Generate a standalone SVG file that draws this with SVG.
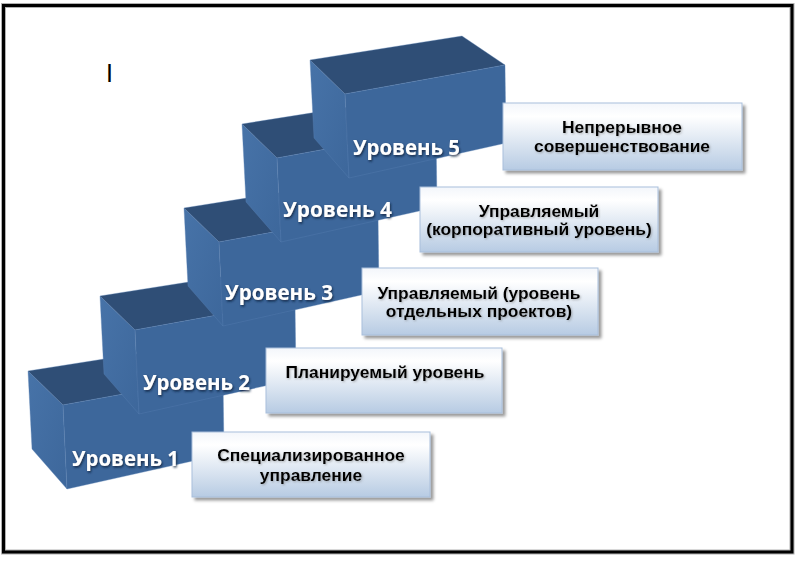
<svg xmlns="http://www.w3.org/2000/svg" width="800" height="562" viewBox="0 0 800 562">
<defs>
<linearGradient id="boxg" x1="0" y1="0" x2="0" y2="1">
<stop offset="0" stop-color="#f3f6fb"/>
<stop offset="0.2" stop-color="#ffffff"/>
<stop offset="1" stop-color="#b7cbe3"/>
</linearGradient>
<linearGradient id="sideg" x1="0" y1="0" x2="1" y2="1">
<stop offset="0" stop-color="#4773a8"/>
<stop offset="1" stop-color="#3d679b"/>
</linearGradient>
<filter id="boxsh" x="-10%" y="-10%" width="125%" height="135%">
<feDropShadow dx="3" dy="3" stdDeviation="1.5" flood-color="#000" flood-opacity="0.4"/>
</filter>
<filter id="lblsh" x="-10%" y="-30%" width="130%" height="170%">
<feDropShadow dx="1" dy="1.5" stdDeviation="1.2" flood-color="#10203a" flood-opacity="0.85"/>
</filter>
<filter id="txtsh" x="-5%" y="-30%" width="115%" height="170%">
<feDropShadow dx="1" dy="1" stdDeviation="0.8" flood-color="#6a6a6a" flood-opacity="0.5"/>
</filter>
</defs>
<style>
.front{fill:#3d679b;stroke:#5a82b4;stroke-width:0.6;stroke-opacity:0.6}
.top{fill:#2f4e76;stroke:#5a82b4;stroke-width:0.6;stroke-opacity:0.6}
.side{fill:url(#sideg);stroke:#5a82b4;stroke-width:0.6;stroke-opacity:0.6}
.lbl{font-family:"Open Sans","Noto Sans","DejaVu Sans",sans-serif;font-weight:bold;font-size:21px;fill:#ffffff;filter:url(#lblsh)}
.box{fill:url(#boxg);stroke:#a9bfdb;stroke-width:1;filter:url(#boxsh)}
.bt{font-family:"Liberation Sans",Arial,sans-serif;font-weight:bold;font-size:17.4px;fill:#000;text-anchor:middle;filter:url(#txtsh)}
</style>
<rect x="0" y="0" width="800" height="562" fill="#ffffff"/>
<rect id="frame-halo" x="3.5" y="5.5" width="788.5" height="546.5" fill="none" stroke="#b0b0b0" stroke-width="5"/>
<rect id="frame" x="3.5" y="5.5" width="788.5" height="546.5" fill="none" stroke="#000" stroke-width="3"/>
<text x="106" y="82" font-family="Liberation Sans,Arial,sans-serif" font-size="25" fill="#000">I</text>

<g id="connectors"></g>

<g id="step1">
<polygon class="side" points="28,371 63,405 67,489 32,449"/>
<polygon class="top" points="28,371 63,405 223,376 180,347"/>
<polygon class="front" points="63,405 223,376 224,454 67,489"/>
<text class="lbl" x="72" y="466" textLength="107" lengthAdjust="spacingAndGlyphs">Уровень 1</text>
</g>
<g id="step2">
<polygon class="side" points="100,296 135,330 139,414 104,374"/>
<polygon class="top" points="100,296 135,330 295,301 252,272"/>
<polygon class="front" points="135,330 295,301 296,379 139,414"/>
<text class="lbl" x="143" y="390" textLength="107" lengthAdjust="spacingAndGlyphs">Уровень 2</text>
</g>
<g id="step3">
<polygon class="side" points="184,208 219,242 223,326 188,286"/>
<polygon class="top" points="184,208 219,242 378,213 335,184"/>
<polygon class="front" points="219,242 378,213 379,291 223,326"/>
<text class="lbl" x="225" y="300" textLength="108" lengthAdjust="spacingAndGlyphs">Уровень 3</text>
</g>
<g id="step4">
<polygon class="side" points="242,124 277,158 281,242 246,202"/>
<polygon class="top" points="242,124 277,158 436,129 393,100"/>
<polygon class="front" points="277,158 436,129 437,207 281,242"/>
<text class="lbl" x="283" y="217" textLength="109" lengthAdjust="spacingAndGlyphs">Уровень 4</text>
</g>
<g id="step5">
<polygon class="side" points="310,60 345,94 349,178 314,138"/>
<polygon class="top" points="310,60 345,94 505,65 462,36"/>
<polygon class="front" points="345,94 505,65 506,143 349,178"/>
<text class="lbl" x="353" y="155" textLength="107" lengthAdjust="spacingAndGlyphs">Уровень 5</text>
</g>

<g id="desc1">
<rect class="box" x="192" y="432" width="238" height="65"/>
<text class="bt" x="311" y="461"><tspan x="311" y="461">Специализированное</tspan><tspan x="311" y="481">управление</tspan></text>
</g>
<g id="desc2">
<rect class="box" x="266" y="348" width="236" height="65"/>
<text class="bt" x="385" y="378">Планируемый уровень</text>
</g>
<g id="desc3">
<rect class="box" x="362" y="268" width="236" height="67"/>
<text class="bt" x="479" y="299"><tspan x="479" y="299">Управляемый (уровень</tspan><tspan x="479" y="317">отдельных проектов)</tspan></text>
</g>
<g id="desc4">
<rect class="box" x="420" y="187" width="238" height="65"/>
<text class="bt" x="539" y="217"><tspan x="539" y="217">Управляемый</tspan><tspan x="539" y="235">(корпоративный уровень)</tspan></text>
</g>
<g id="desc5">
<rect class="box" x="503" y="103" width="239" height="67"/>
<text class="bt" x="622" y="133"><tspan x="622" y="133">Непрерывное</tspan><tspan x="622" y="152">совершенствование</tspan></text>
</g>
</svg>
